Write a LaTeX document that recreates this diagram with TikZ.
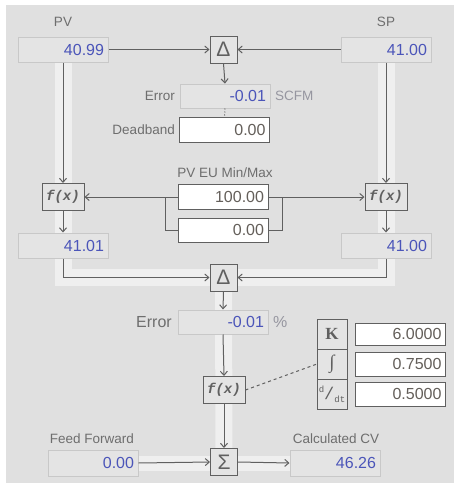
\documentclass[tikz,border=0pt]{standalone}
\usepackage{fontspec}
\setmainfont{Liberation Sans}
\newfontfamily\monofont{Liberation Mono}
\newfontfamily\seriffont{Liberation Serif}
\usepackage{xcolor}
\usetikzlibrary{arrows.meta,positioning,backgrounds}
\definecolor{fondo}{RGB}{224,224,224}
\definecolor{banda}{RGB}{239,239,239}
\definecolor{grisborde}{RGB}{200,200,200}
\definecolor{grislinea}{RGB}{96,96,96}
\definecolor{grisfunc}{RGB}{228,228,228}
\definecolor{grisetiq}{RGB}{110,110,110}
\definecolor{grisunidad}{RGB}{150,150,160}
\definecolor{azulvalor}{RGB}{75,85,185}
\definecolor{grisvalor}{RGB}{100,95,90}
\newcommand{\fuenteval}{\fontsize{16}{18}\selectfont}
\newcommand{\fuenteetiq}{\fontsize{13.5}{15}\selectfont}
\tikzset{
	caja/.style={draw=grisborde,fill=grisfunc,line width=1pt,minimum width=90pt,
		minimum height=25pt,text width=82pt,inner sep=4pt,align=right,
		text=azulvalor,font=\fuenteval},
	entrada/.style={caja,draw=grislinea,fill=white,text=grisvalor},
	func/.style={draw=grislinea,fill=grisfunc,line width=1pt,minimum width=42pt,
		minimum height=27pt,inner sep=0pt,text=grislinea,
		font=\monofont\bfseries\itshape\fontsize{14}{14}\selectfont},
	oper/.style={func,minimum width=27pt,font=\fontsize{21}{21}\selectfont},
	celda/.style={func,minimum width=30pt,minimum height=30pt,outer sep=0pt},
	etiqueta/.style={text=grisetiq,inner sep=0pt,font=\fuenteetiq},
	unidad/.style={text=grisunidad,inner sep=0pt,font=\fuenteetiq},
	flecha/.style={draw=grislinea,line width=1pt,-{Straight Barb[length=4pt,width=7pt]}},
	conector/.style={draw=grislinea,line width=1pt},
	franja/.style={draw=banda,line width=17pt,line cap=butt,line join=miter}
}
\begin{document}
\begin{tikzpicture}[x=1pt,y=-1pt]
	\useasboundingbox (0,0) rectangle (454,485);
	% entradas PV y SP
	\node[etiqueta] (pvlbl) at (63,22) {PV};
	\node[etiqueta] (splbl) at (386,22) {SP};
	\node[caja] (pv) at (63,49.5) {40.99};
	\node[caja] (sp) at (386,49.5) {41.00};
	\node[oper] (dsup) at (223.5,49.5) {Δ};
	\node[caja,minimum height=24pt] (err) at (225,96) {-0.01};
	\node[etiqueta,anchor=east] (errlbl) at (175,96) {Error};
	\node[unidad,anchor=west] (scfm) at (275,96) {SCFM};
	\node[entrada] (db) at (224.5,129.5) {0.00};
	\node[etiqueta,anchor=east] (dblbl) at (175,129.5) {Deadband};
	% escalado
	\node[func] (fpv) at (63,197) {f(x)};
	\node[func] (fsp) at (386,197) {f(x)};
	\node[etiqueta] (eulbl) at (225,173) {PV EU Min/Max};
	\node[entrada] (eumax) at (223,197) {100.00};
	\node[entrada,minimum height=24pt] (eumin) at (223,230) {0.00};
	\coordinate (brizq) at (165,197);
	\coordinate (brder) at (282,197);
	\node[caja] (pvesc) at (63,245.5) {41.01};
	\node[caja] (spesc) at (386,245.5) {41.00};
	\node[oper] (dinf) at (223.5,277.5) {Δ};
	% PID
	\node[caja,minimum height=24pt] (errp) at (223,322) {-0.01};
	\node[etiqueta,anchor=east,font=\fuenteval] (errplbl) at (172,322) {Error};
	\node[unidad,anchor=west,font=\fuenteval] (pct) at (273,322) {\%};
	\node[func] (fpid) at (224,390) {f(x)};
	\node[celda,font=\seriffont\bfseries\fontsize{17}{17}\selectfont] (ck) at (332,334) {K};
	\node[celda,below=0pt of ck,font=\seriffont\fontsize{19}{19}\selectfont] (ci) {∫};
	\node[celda,below=0pt of ci,font=\monofont\fontsize{9}{9}\selectfont] (cd)
		{\raisebox{6pt}{d}\raisebox{-1pt}{\fontsize{17}{17}\selectfont/}\raisebox{-4pt}{dt}};
	\node[entrada,minimum height=22pt,right=8pt of ck] (vk) {6.0000};
	\node[entrada,minimum height=24pt,right=8pt of ci] (vi) {0.7500};
	\node[entrada,minimum height=24pt,right=8pt of cd] (vd) {0.5000};
	% salida
	\node[oper] (suma) at (224,462) {Σ};
	\node[caja,minimum height=26pt] (ff) at (93,463) {0.00};
	\node[etiqueta] (fflbl) at (92,439) {Feed Forward};
	\node[caja,minimum height=26pt] (cv) at (335,463) {46.26};
	\node[etiqueta] (cvlbl) at (336,439) {Calculated CV};
	\begin{scope}[on background layer]
		\fill[fondo] (6,5) rectangle (454,483);
		\draw[franja] (pv.south) |- (dinf.center) -| (sp.south);
		\draw[franja] (dinf.center) -- (suma.center);
		\draw[franja,line width=15pt] (ff.east) -- (cv.west);
	\end{scope}
	\draw[flecha] (pv.east) -- (dsup.west);
	\draw[flecha] (sp.west) -- (dsup.east);
	\draw[flecha] (dsup.south) -- (err.north);
	\draw[conector,dotted] (err.south) -- (db.north);
	\draw[flecha] (pv.south) -- (fpv.north);
	\draw[flecha] (sp.south) -- (fsp.north);
	\draw[flecha] (eumax.west) -- (fpv.east);
	\draw[flecha] (eumax.east) -- (fsp.west);
	\draw[conector] (eumin.west) -| (brizq);
	\draw[conector] (eumin.east) -| (brder);
	\draw[flecha] (fpv.south) -- (pvesc.north);
	\draw[flecha] (fsp.south) -- (spesc.north);
	\draw[flecha] (pvesc.south) |- (dinf.west);
	\draw[flecha] (spesc.south) |- (dinf.east);
	\draw[flecha] (dinf.south) -- (errp.north);
	\draw[flecha] (errp.south) -- (fpid.north);
	\draw[conector,dash pattern=on 3pt off 3pt] (fpid.east) -- (ci.west);
	\draw[flecha] (fpid.south) -- (suma.north);
	\draw[flecha] (ff.east) -- (suma.west);
	\draw[flecha] (suma.east) -- (cv.west);
\end{tikzpicture}
\end{document}
